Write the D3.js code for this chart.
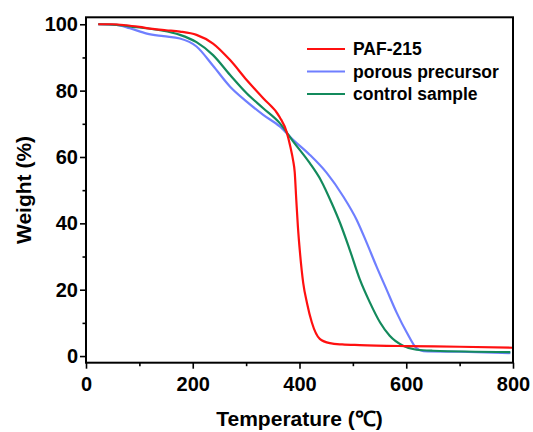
<!DOCTYPE html>
<html><head><meta charset="utf-8">
<script src="https://cdn.jsdelivr.net/npm/d3@7/dist/d3.min.js"></script>
<style>
body{margin:0;background:#fff;}
text{font-family:"Liberation Sans",Arial,sans-serif;font-weight:bold;fill:#000;}
</style></head>
<body><svg id="c" width="533" height="432"></svg>
<script>
const seriesNames = ["PAF-215", "porous precursor", "control sample"];
const seriesColors = ["#ff1010", "#6f7fff", "#138a5c"];
const xTicks = [0, 200, 400, 600, 800];
const xMinor = [100, 300, 500, 700];
const yTicks = [0, 20, 40, 60, 80, 100];
const yMinor = [10, 30, 50, 70, 90];

const pafT = [23, 50, 75, 100, 125, 150, 176, 207, 238, 270, 301, 332, 363, 376, 383, 388, 391, 394, 397, 401, 407, 414, 423, 438, 457, 480, 513, 600, 700, 800];
const pafW = [100, 100, 99.7, 99.2, 98.6, 98.2, 97.8, 96.8, 94.2, 89.2, 83.2, 77.7, 72.0, 67.5, 63, 59, 55.5, 47, 39, 31, 22, 16, 10.2, 5.2, 3.9, 3.5, 3.3, 3.0, 2.8, 2.5];

const preT = [23, 57, 82, 114, 145, 176, 207, 238, 270, 301, 332, 363, 388, 419, 451, 482, 507, 526, 544, 563, 582, 601, 619, 632, 700, 795];
const preW = [100, 99.8, 98.8, 97.2, 96.4, 95.7, 93.3, 87.5, 81.2, 76.7, 72.7, 69.2, 65.2, 60.7, 55.2, 48.1, 41.1, 34.1, 27.1, 20.1, 13.1, 7.1, 2.4, 1.5, 1.3, 0.9];

const ctlT = [23, 57, 95, 139, 176, 207, 238, 270, 301, 332, 363, 388, 419, 440, 460, 476, 494, 513, 532, 551, 569, 594, 619, 650, 795];
const ctlW = [100, 99.8, 99.1, 98.2, 96.8, 94.6, 90.7, 84.7, 79.2, 74.7, 70.2, 64.7, 58.2, 53, 46.2, 40.1, 32.1, 23.1, 16.1, 10.1, 6.1, 3.1, 1.9, 1.6, 1.2];

const svg = d3.select("#c");
const L = 86, R = 513, T = 17.3, B = 362.7;
const x = d3.scaleLinear().domain([0, 800]).range([L, R]);
const y = d3.scaleLinear().domain([-2, 102.1]).range([B, T]);

const series = [
  {name: seriesNames[0], color: seriesColors[0], t: pafT, w: pafW},
  {name: seriesNames[1], color: seriesColors[1], t: preT, w: preW},
  {name: seriesNames[2], color: seriesColors[2], t: ctlT, w: ctlW}
];

const line = d3.line().x(d => x(d[0])).y(d => y(d[1])).curve(d3.curveMonotoneX);
const drawOrder = [1, 2, 0];
drawOrder.forEach(i => {
  const s = series[i];
  svg.append("path").datum(s.t.map((t, k) => [t, s.w[k]]))
    .attr("d", line).attr("fill", "none").attr("stroke", s.color)
    .attr("stroke-width", 2.2).attr("stroke-linejoin", "round");
});

// axes
svg.append("g").attr("transform", `translate(0,${B})`)
  .call(d3.axisBottom(x).tickValues(xTicks).tickSize(6).tickPadding(8).tickFormat(d3.format("d")));
svg.append("g").attr("transform", `translate(0,${B})`)
  .call(d3.axisBottom(x).tickValues(xMinor).tickSize(3.5).tickFormat(""));
svg.append("g").attr("transform", `translate(${L},0)`)
  .call(d3.axisLeft(y).tickValues(yTicks).tickSize(6).tickPadding(2).tickFormat(d3.format("d")));
svg.append("g").attr("transform", `translate(${L},0)`)
  .call(d3.axisLeft(y).tickValues(yMinor).tickSize(3.5).tickFormat(""));
svg.selectAll(".domain").remove();
svg.selectAll(".tick line").attr("stroke", "#000").attr("stroke-width", 1.6);
svg.selectAll(".tick text").style("font-size", "20px").style("font-family", "'Liberation Sans',Arial,sans-serif").style("font-weight", "bold").attr("fill", "#000");

// frame
svg.append("rect").attr("x", L).attr("y", T).attr("width", R - L).attr("height", B - T)
  .attr("fill", "none").attr("stroke", "#000").attr("stroke-width", 2);

// titles
svg.append("text").attr("x", (L + R) / 2).attr("y", 426).attr("text-anchor", "middle")
  .style("font-size", "21px").text("Temperature (℃)");
svg.append("text").attr("transform", `translate(31,${(T + B) / 2}) rotate(-90)`).attr("text-anchor", "middle")
  .style("font-size", "21px").text("Weight (%)");

// legend
const lg = svg.append("g");
series.forEach((s, i) => {
  const yy = 49 + i * 22.5;
  lg.append("line").attr("x1", 307).attr("x2", 345).attr("y1", yy).attr("y2", yy)
    .attr("stroke", s.color).attr("stroke-width", 2.2);
  lg.append("text").attr("x", 353).attr("y", yy + 6).style("font-size", "17.5px").text(s.name);
});
</script></body></html>
